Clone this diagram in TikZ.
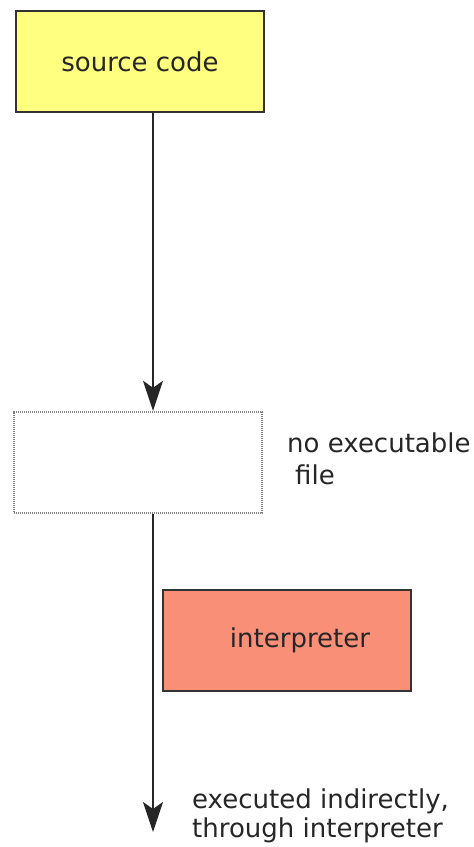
\documentclass[tikz,border=0pt]{standalone}
\usepackage{fontspec}
\setmainfont{DejaVu Sans}
\usetikzlibrary{arrows.meta}
\definecolor{srcyellow}{HTML}{FFFF80}
\definecolor{interpsalmon}{HTML}{FA8F78}
\definecolor{edge}{HTML}{333333}
\begin{document}
\begin{tikzpicture}[x=1pt,y=-1pt,
  every node/.style={font=\fontsize{26}{31}\selectfont, text=black!85},
  boxstyle/.style={draw=edge, line width=2.2pt, minimum width=248pt, minimum height=101pt, inner sep=0pt},
  dotbox/.style={draw=black!50, dash pattern=on 1.2pt off 0.8pt, line width=2.4pt, minimum width=248pt, minimum height=101pt, inner sep=0pt},
  flow/.style={line width=2pt, draw=black!85, -{Stealth[length=30pt,width=20pt,inset=7pt]}},
  note/.style={align=left, anchor=north west, inner sep=0pt}
]
\useasboundingbox (0,0) rectangle (474,847);
\node[boxstyle, fill=srcyellow] (src) at (140,61.5) {source code};
\node[dotbox] (nofile) at (138,462.5) {};
\node[boxstyle, fill=interpsalmon] (interp) at (287,640.5) {\hspace*{26pt}interpreter};
\coordinate (axis) at (153,0);
\coordinate (end) at (153,832);
\draw[flow] (src.south -| axis) -- (nofile.north -| axis);
\draw[flow] (nofile.south -| axis) -- (end);
\node[note, font=\fontsize{26}{32}\selectfont] (nofiletext) at (287,433) {no executable\\\hspace*{8pt}file};
\node[note, font=\fontsize{26}{28.5}\selectfont] (exectext) at (192,789) {executed indirectly,\\through interpreter};
\end{tikzpicture}
\end{document}
